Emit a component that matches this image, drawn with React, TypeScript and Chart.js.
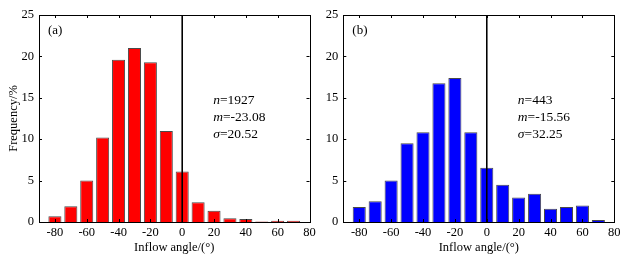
import React, { useEffect, useRef } from "react";
import { Chart, registerables } from "chart.js";

Chart.register(...registerables);

const angles = [-80, -70, -60, -50, -40, -30, -20, -10, 0, 10, 20, 30, 40, 50, 60, 70];
const freqA = [0.7, 1.9, 5.0, 10.2, 19.6, 21.0, 19.3, 11.0, 6.1, 2.4, 1.35, 0.45, 0.35, 0.05, 0.15, 0.15];
const freqB = [1.8, 2.5, 5.0, 9.5, 10.85, 16.75, 17.4, 10.85, 6.55, 4.5, 2.95, 3.4, 1.6, 1.8, 2.0, 0.25];
const xTicks = [-80, -60, -40, -20, 0, 20, 40, 60, 80];
const yTicks = [0, 5, 10, 15, 20, 25];
const statsA = [["n", "=1927"], ["m", "=-23.08"], ["σ", "=20.52"]];
const statsB = [["n", "=443"], ["m", "=-15.56"], ["σ", "=32.25"]];

const FONT = "'Liberation Serif', 'Times New Roman', serif";

function makePlugin(label: string, stats: string[][]) {
  return {
    id: "frame" + label.replace(/\W/g, ""),
    afterDatasetsDraw(chart: any) {
      const ctx = chart.ctx;
      const { left, right, top, bottom } = chart.chartArea;
      const xs = chart.scales.x;
      const ys = chart.scales.y;
      ctx.save();
      const x0 = xs.getPixelForValue(0);
      ctx.strokeStyle = "#000";
      ctx.lineWidth = 1.6;
      ctx.beginPath();
      ctx.moveTo(x0, top);
      ctx.lineTo(x0, bottom);
      ctx.stroke();
      ctx.lineWidth = 1;
      ctx.strokeRect(Math.round(left) + 0.5, Math.round(top) + 0.5, Math.round(right - left), Math.round(bottom - top));
      const tl = 3;
      ctx.beginPath();
      xTicks.forEach((v) => {
        const px = Math.round(xs.getPixelForValue(v)) + 0.5;
        ctx.moveTo(px, bottom);
        ctx.lineTo(px, bottom - tl);
        ctx.moveTo(px, top);
        ctx.lineTo(px, top + tl);
      });
      yTicks.forEach((v) => {
        const py = Math.round(ys.getPixelForValue(v)) + 0.5;
        ctx.moveTo(left, py);
        ctx.lineTo(left + tl, py);
        ctx.moveTo(right, py);
        ctx.lineTo(right - tl, py);
      });
      ctx.stroke();
      ctx.fillStyle = "#000";
      ctx.textBaseline = "middle";
      ctx.textAlign = "left";
      ctx.font = `13px ${FONT}`;
      ctx.fillText(label, left + 9, top + 16);
      const sx = xs.getPixelForValue(19.5);
      stats.forEach((s, i) => {
        const py = ys.getPixelForValue(14.7 - i * 2.05);
        ctx.font = `italic 13.5px ${FONT}`;
        ctx.fillText(s[0], sx, py);
        const w = ctx.measureText(s[0]).width;
        ctx.font = `13.5px ${FONT}`;
        ctx.fillText(s[1], sx + w, py);
      });
      ctx.restore();
    },
  };
}

function buildConfig(values: number[], color: string, label: string, stats: string[][], yTitle: string | null, yWidth: number, padRight: number) {
  const font = { family: FONT, size: 12.5 };
  return {
    type: "bar" as const,
    data: {
      datasets: [
        {
          data: angles.map((a, i) => ({ x: a, y: values[i] })),
          backgroundColor: color,
          borderColor: "#4a4a4a",
          borderWidth: 1,
          barPercentage: 0.82,
          categoryPercentage: 1,
        },
      ],
    },
    options: {
      animation: false as const,
      responsive: false,
      devicePixelRatio: 1,
      layout: { padding: { top: 15, right: padRight, left: 0, bottom: 0 } },
      plugins: { legend: { display: false }, tooltip: { enabled: false } },
      scales: {
        x: {
          type: "linear" as const,
          min: -90,
          max: 80,
          offset: false,
          afterBuildTicks: (s: any) => {
            s.ticks = xTicks.map((v) => ({ value: v }));
          },
          afterFit: (s: any) => {
            s.height = 38;
          },
          grid: { display: false, drawTicks: false },
          border: { display: false },
          ticks: { color: "#000", font, padding: 3, maxRotation: 0, autoSkip: false },
          title: { display: true, text: "Inflow angle/(°)", color: "#000", font, padding: { top: 0, bottom: 5 } },
        },
        y: {
          min: 0,
          max: 25,
          afterBuildTicks: (s: any) => {
            s.ticks = yTicks.map((v) => ({ value: v }));
          },
          afterFit: (s: any) => {
            s.width = yWidth;
          },
          grid: { display: false, drawTicks: false },
          border: { display: false },
          ticks: { color: "#000", font, padding: 5 },
          title: { display: !!yTitle, text: yTitle || "", color: "#000", font, padding: { top: 6, bottom: 0 } },
        },
      },
    },
    plugins: [makePlugin(label, stats)],
  };
}

export default function App() {
  const refA = useRef<HTMLCanvasElement>(null);
  const refB = useRef<HTMLCanvasElement>(null);
  useEffect(() => {
    const a = new Chart(refA.current as any, buildConfig(freqA, "#ff0000", "(a)", statsA, "Frequency/%", 39, 10.5) as any);
    const b = new Chart(refB.current as any, buildConfig(freqB, "#0000ff", "(b)", statsB, null, 23.3, 16.7) as any);
    return () => {
      a.destroy();
      b.destroy();
    };
  }, []);
  return (
    <div style={{ position: "fixed", left: 0, top: 0, width: 631, height: 260, background: "#fff" }}>
      <canvas ref={refA} width={320} height={260} style={{ position: "absolute", left: 0, top: 0 }} />
      <canvas ref={refB} width={311} height={260} style={{ position: "absolute", left: 320, top: 0 }} />
    </div>
  );
}
